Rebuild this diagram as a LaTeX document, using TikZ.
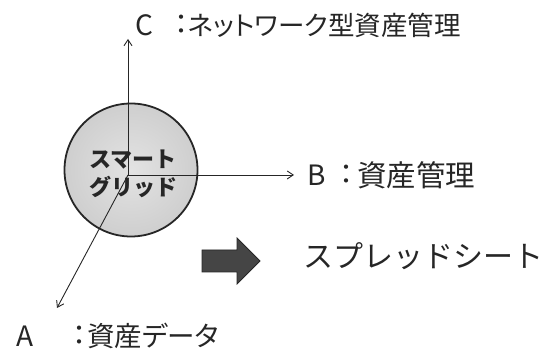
\documentclass[tikz,border=0pt]{standalone}
\usepackage{fontspec}
\setmainfont{Noto Sans CJK JP}
\newfontfamily\pfont{Noto Sans CJK JP}[RawFeature=+palt]
\usetikzlibrary{arrows.meta}
\definecolor{ink}{HTML}{262626}
\definecolor{blk}{HTML}{454545}
\tikzset{
  axis/.style={draw=ink, line width=0.9pt, -{Straight Barb[length=6pt,width=8pt]}},
  lbl/.style={anchor=west, inner sep=0pt, text=ink, font=\pfont\fontsize{28}{32}\selectfont},
  colon/.style={inner sep=0pt, text=ink, font=\fontsize{28}{32}\selectfont},
}
\begin{document}
\begin{tikzpicture}[x=1pt,y=-1pt]
\useasboundingbox (0,0) rectangle (542,352);
\node[circle, minimum size=133pt, inner sep=0pt, draw=ink, line width=1.8pt,
      inner color=gray!22, outer color=gray!38] (sg) at (131,170) {};
\coordinate (o) at (128,175);
\coordinate (tc) at (128,39);
\coordinate (tb) at (294,175);
\coordinate (ta) at (57,308);
\draw[axis] (o) -- (tc);
\draw[axis] (o) -- (tb);
\draw[axis] (o) -- (ta);
\node[align=center, inner sep=0pt, text=ink, font=\fontsize{22}{28}\selectfont\bfseries] (sgt) at (133,174) {スマート\\グリッド};
% C label
\node[lbl] (lcl) at (135,25) {C};
\node[colon] (lcc) at (181,25) {：};
\node[lbl, font=\pfont\fontsize{26.5}{30}\selectfont] (lct) at (188,25) {ネットワーク型資産管理};
% B label
\node[lbl] (lbl) at (307,175) {B};
\node[colon] (lbc) at (346,175) {：};
\node[lbl, font=\pfont\fontsize{29.5}{33}\selectfont] (lbt) at (357,175) {資産管理};
% A label
\node[lbl] (lal) at (16,336) {A};
\node[colon] (lac) at (80,336) {：};
\node[lbl, font=\pfont\fontsize{27.5}{31}\selectfont] (lat) at (87,336) {資産データ};
\node[lbl, font=\fontsize{30}{34}\selectfont] (ss) at (303,256) {スプレッドシート};
\draw[fill=blk, draw=ink, line width=0.8pt, line join=miter]
  (202,250) -- (237,250) -- (237,238) -- (260,261) -- (237,284) -- (237,272) -- (202,272) -- cycle;
\end{tikzpicture}
\end{document}
